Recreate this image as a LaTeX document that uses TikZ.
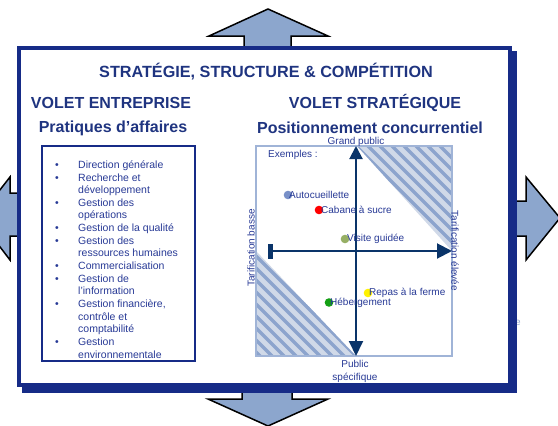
\documentclass[tikz,border=0pt]{standalone}
\usepackage{fontspec}
\setmainfont{Liberation Sans}
\usetikzlibrary{arrows.meta}
\definecolor{framenavy}{RGB}{22,43,135}
\definecolor{headblue}{RGB}{31,52,128}
\definecolor{listblue}{RGB}{40,58,150}
\definecolor{chartline}{RGB}{160,180,215}
\definecolor{axisblue}{RGB}{10,52,105}
\definecolor{hatchfill}{RGB}{208,217,232}
\definecolor{hatchline}{RGB}{140,164,205}
\definecolor{arrowfill}{RGB}{140,166,205}
\definecolor{dotblue}{RGB}{120,144,200}
\definecolor{dotolive}{RGB}{150,175,100}
\definecolor{dotgreen}{RGB}{20,160,20}
\definecolor{straye}{RGB}{150,170,210}
\tikzset{
  bigarrow/.style={fill=arrowfill, draw=black, line width=1.5pt, line join=miter},
  heading/.style={text=headblue, font=\bfseries\fontsize{16}{18}\selectfont, inner sep=0pt},
  chartlabel/.style={text=listblue, font=\fontsize{10}{12.5}\selectfont, inner sep=0pt},
  example/.style={chartlabel, anchor=west},
  axis/.style={draw=axisblue, line width=2pt},
}
\begin{document}
\begin{tikzpicture}[x=1pt,y=-1pt]
\useasboundingbox (0,0) rectangle (558,426);

% four block arrows behind the frame
\draw[bigarrow] (268,9) -- (328,36) -- (291,36) -- (291,50) -- (244,50) -- (244,36) -- (209,36) -- cycle;
\draw[bigarrow] (242,385) -- (292,385) -- (292,399) -- (328,399) -- (268,426) -- (208,399) -- (242,399) -- cycle;
\draw[bigarrow] (505,201) -- (526,201) -- (526,177) -- (560,218) -- (526,260) -- (526,236) -- (505,236) -- cycle;
\draw[bigarrow] (22,193) -- (10,193) -- (10,177) -- (-22,218) -- (10,260) -- (10,236) -- (22,236) -- cycle;

% partly hidden letter beside the frame
\node[text=straye, font=\fontsize{10}{12}\selectfont, inner sep=0pt] (stray) at (518,323) {e};

% frame with drop shadow
\fill[framenavy] (22,51) rectangle (517,393);
\draw[framenavy, fill=white, line width=4pt] (19,48) rectangle (510,385);

% headings
\node[heading, font=\bfseries\fontsize{16.2}{18}\selectfont] (title) at (266,72) {STRATÉGIE, STRUCTURE \& COMPÉTITION};
\node[heading] (voletE) at (111,103) {VOLET ENTREPRISE};
\node[heading] (voletS) at (375,103) {VOLET STRATÉGIQUE};
\node[heading] (pratiques) at (113,128) {Pratiques d’affaires};
\node[heading] (position) at (370,128) {Positionnement concurrentiel};

% list of business practices
\draw[framenavy, line width=2pt] (42,146) rectangle (195,361);
\node[anchor=north west, inner sep=0pt, text=listblue, font=\fontsize{10.5}{12.65}\selectfont] (list) at (55,159.3) {%
\begin{tabular}{@{}p{23pt}@{}l@{}}
• & Direction générale\\
• & Recherche et\\
  & développement\\
• & Gestion des\\
  & opérations\\
• & Gestion de la qualité\\
• & Gestion des\\
  & ressources humaines\\
• & Commercialisation\\
• & Gestion de\\
  & l’information\\
• & Gestion financière,\\
  & contrôle et\\
  & comptabilité\\
• & Gestion\\
  & environnementale
\end{tabular}};

% positioning chart: hatched zones
\begin{scope}
  \clip (357,146) -- (452,146) -- (452,251) -- cycle;
  \fill[hatchfill] (357,146) rectangle (452,251);
  \foreach \c in {90,102,...,330}
    \draw[hatchline, line width=3.5pt] (\c+100,100) -- (\c+420,420);
\end{scope}
\begin{scope}
  \clip (256,251) -- (256,356) -- (356,356) -- cycle;
  \fill[hatchfill] (256,251) rectangle (356,356);
  \foreach \c in {-120,-108,...,120}
    \draw[hatchline, line width=3.5pt] (\c+100,100) -- (\c+420,420);
\end{scope}
\draw[chartline, line width=2pt] (256,146) rectangle (452,356);

% axes
\coordinate (ytop) at (356,146);
\coordinate (ybot) at (356,356);
\coordinate (xleft) at (268,251);
\coordinate (xright) at (452,251);
\draw[axis, {Triangle[length=13pt,width=13pt]}-{Triangle[length=15pt,width=14pt]}] (ytop) -- (ybot);
\draw[axis, {Rectangle[length=5pt,width=15pt]}-{Triangle[length=15pt,width=15pt]}] (xleft) -- (xright);

% axis labels
\node[chartlabel] (grand) at (356,142) {Grand public};
\node[chartlabel, align=center] (public) at (355,371.5) {Public\\spécifique};
\node[chartlabel, rotate=90] (basse) at (251,248) {Tarification basse};
\node[chartlabel, rotate=-90] (elevee) at (455,251) {Tarification élevée};
\node[chartlabel, anchor=west] (exemples) at (268,155) {Exemples :};

% examples
\fill[dotblue] (288,195) circle (4.3);
\node[example] (autoc) at (289,195) {Autocueillette};
\fill[red] (319,210) circle (4.3);
\node[example] (cabane) at (321,210) {Cabane à sucre};
\fill[dotolive] (345,239) circle (4.3);
\node[example] (visite) at (347,239) {Visite guidée};
\fill[yellow] (368,293) circle (4.3);
\node[example] (repas) at (369,293) {Repas à la ferme};
\fill[dotgreen] (329,302.5) circle (4.3);
\node[example] (heberg) at (330,302.5) {Hébergement};
\end{tikzpicture}
\end{document}
